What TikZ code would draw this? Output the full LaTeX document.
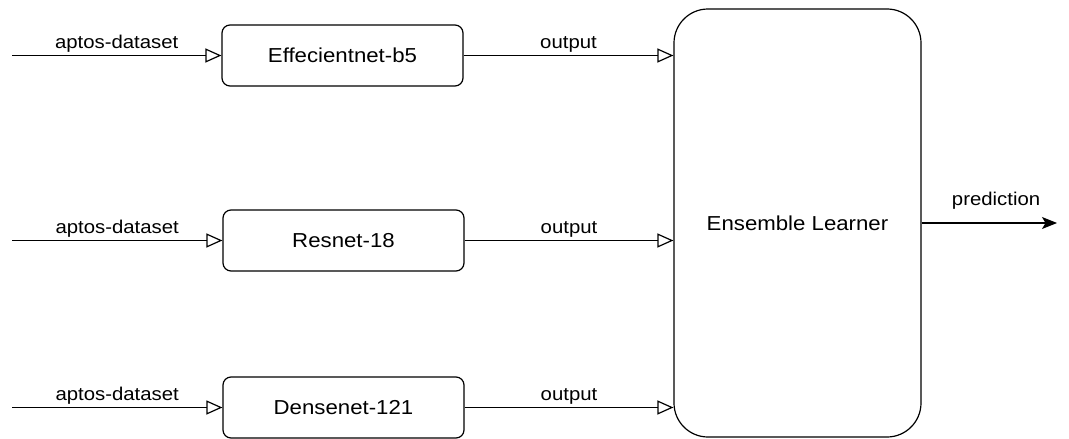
\documentclass[tikz,border=0pt]{standalone}
\usepackage{fontspec}
\setmainfont{Liberation Sans}[FakeStretch=1.1]
\usetikzlibrary{arrows.meta}
\begin{document}
\begin{tikzpicture}[x=1pt,y=-1pt,
  model/.style={draw, line width=1.2pt, rounded corners=8pt, minimum width=241pt, minimum height=61pt, inner sep=0pt, font=\fontsize{20.2}{24}\selectfont},
  ens/.style={draw, line width=1.2pt, rounded corners=34pt, minimum width=247pt, minimum height=428pt, inner sep=0pt, font=\fontsize{20.2}{24}\selectfont},
  conn/.style={line width=1.2pt, -{Triangle[open, length=16pt, width=14pt, line width=1.2pt]}},
  outarrow/.style={line width=1.2pt, -{Stealth[length=15pt, width=12pt, inset=3.5pt]}},
  lbl/.style={font=\fontsize{18.5}{22}\selectfont, above=3pt, inner sep=0pt}]
\useasboundingbox (0,0) rectangle (1069,439);
\node[model] (m1) at (342.5,55.5) {Effecientnet-b5};
\node[model] (m2) at (343.5,240.5) {Resnet-18};
\node[model] (m3) at (343.5,407.5) {Densenet-121};
\node[ens] (e) at (797.5,223) {Ensemble Learner};
\coordinate (s1) at (12,55.5);
\coordinate (s2) at (12,240.5);
\coordinate (s3) at (12,407.5);
\coordinate (p) at (1057,223);
\draw[conn] (s1) -- (m1.west) node[midway, lbl] {aptos-dataset};
\draw[conn] (s2) -- (m2.west) node[midway, lbl] {aptos-dataset};
\draw[conn] (s3) -- (m3.west) node[midway, lbl] {aptos-dataset};
\draw[conn] (m1.east) -- (m1.east -| e.west) node[midway, lbl] {output};
\draw[conn] (m2.east) -- (m2.east -| e.west) node[midway, lbl] {output};
\draw[conn] (m3.east) -- (m3.east -| e.west) node[midway, lbl] {output};
\draw[outarrow] (e.east) -- (p) node[pos=0.55, lbl, above=10pt] {prediction};
\end{tikzpicture}
\end{document}
